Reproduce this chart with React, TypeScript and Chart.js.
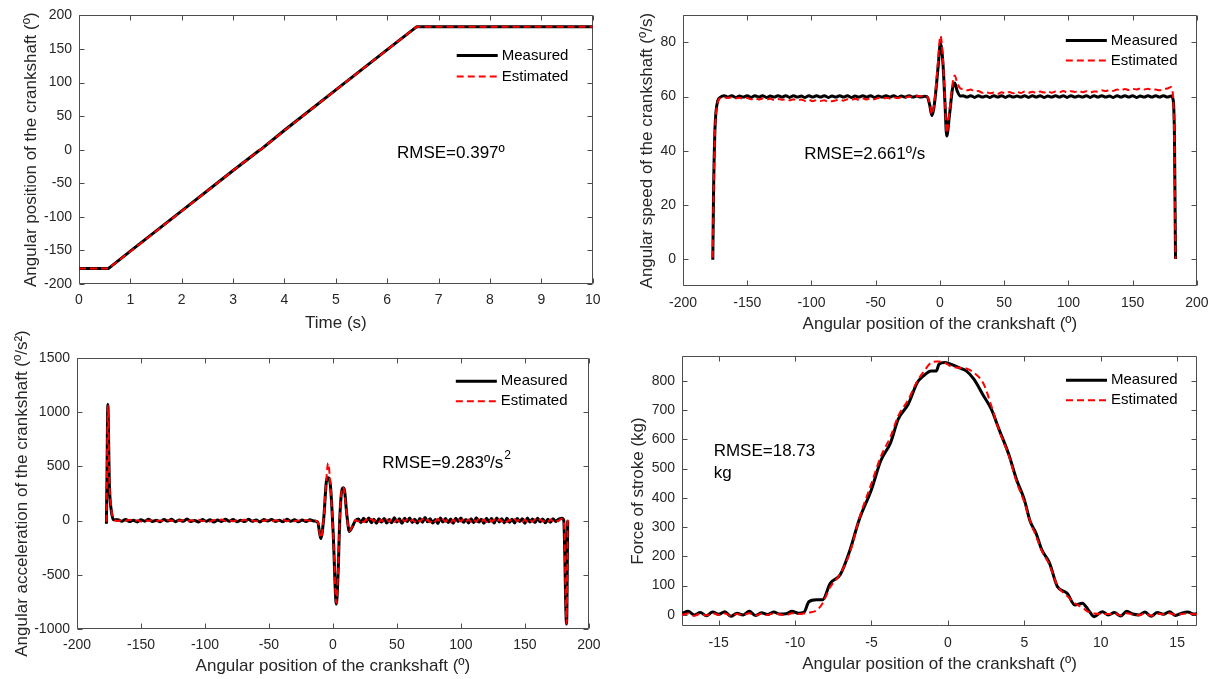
import React, { useEffect, useRef } from 'react';
import { Chart, registerables } from 'chart.js';

Chart.register(...registerables);

const FONT_FAMILY = '"Liberation Sans", Arial, Helvetica, sans-serif';
const INK = '#262626';
const FRAME = '#4d4d4d';
const MEAS_COLOR = '#000000';
const EST_COLOR = '#ff0000';
const SERIES_LABELS = ['Measured', 'Estimated'];

// ---------- Panel 1: angular position vs time ----------
const P1_TIME = [0, 0.57, 1, 2, 3, 3.5, 3.56, 4, 5, 6, 6.57, 7, 8, 9, 10];
const P1_MEAS = [-177, -177, -151, -91, -31, -1.5, 1.5, 29, 89, 149, 183, 183, 183, 183, 183];
const P1_EST = [-177, -177, -151.5, -91.5, -31, -1.5, 1.5, 28.5, 89, 149, 183, 183, 183, 183, 183];
const P1_XTICKS = [0, 1, 2, 3, 4, 5, 6, 7, 8, 9, 10];
const P1_YTICKS = [-200, -150, -100, -50, 0, 50, 100, 150, 200];

// ---------- Panel 2: angular speed vs angular position ----------
const P2_ANGLE = [
  -176.8, -176.2, -175.2, -174.4, -172.9, -170.8,
  -168, -165, -162, -159, -156, -153, -150, -147, -144, -141,
  -138, -135, -132, -129, -126, -123, -120, -117, -114, -111,
  -108, -105, -102, -99, -96, -93, -90, -87, -84, -81,
  -78, -75, -72, -69, -66, -63, -60, -57, -54, -51,
  -48, -45, -42, -39, -36, -33, -30, -27, -24, -21,
  -18, -15, -12,
  -10, -8, -6.3, -5, -3.6, -1.5, 0.4, 2.4, 3.9, 5.3, 7.5, 9.9, 11.5, 13.5, 15.9,
  18, 21, 24, 27, 30, 33, 36, 39, 42, 45,
  48, 51, 54, 57, 60, 63, 66, 69, 72, 75,
  78, 81, 84, 87, 90, 93, 96, 99, 102, 105,
  108, 111, 114, 117, 120, 123, 126, 129, 132, 135,
  138, 141, 144, 147, 150, 153, 156, 159, 162, 165,
  168, 171, 174, 177, 180, 181.5, 182.6, 183.4,
];
const P2_MEAS = [
  -0.3, 25, 47, 54, 58.5, 59.8,
  60.3, 59.8, 60.3, 59.7, 60.2, 59.8, 60.3, 59.7, 60.3, 59.8,
  60.3, 59.7, 60.2, 59.8, 60.3, 59.8, 60.3, 59.7, 60.3, 59.8,
  60.2, 59.7, 60.3, 59.8, 60.3, 59.8, 60.3, 59.7, 60.2, 59.8,
  60.3, 59.8, 60.3, 59.7, 60.2, 59.8, 60.3, 59.8, 60.3, 59.7,
  60.2, 59.8, 60.3, 59.8, 60.3, 59.7, 60.2, 59.8, 60.3, 59.8,
  60.2, 59.8, 60.1,
  60, 57, 53, 55, 60, 70.5, 79.6, 72, 58, 45.4, 53.4, 63.2, 65, 62, 60.2,
  60.3, 59.8, 60.3, 59.7, 60.3, 59.8, 60.2, 59.7, 60.3, 59.8,
  60.3, 59.7, 60.3, 59.8, 60.2, 59.8, 60.3, 59.7, 60.3, 59.8,
  60.3, 59.7, 60.2, 59.8, 60.3, 59.8, 60.3, 59.7, 60.3, 59.8,
  60.2, 59.8, 60.3, 59.7, 60.3, 59.8, 60.3, 59.8, 60.2, 59.7,
  60.3, 59.8, 60.3, 59.8, 60.3, 59.7, 60.2, 59.8, 60.3, 59.8,
  60.3, 59.8, 60.3, 59.8, 60.2, 59, 45, 0,
];
const P2_EST = [
  0.5, 24, 46, 53.5, 58, 59.5,
  59.7, 59.5, 59.8, 59.4, 59.6, 59.2, 59.5, 59.0, 59.4, 58.9,
  59.3, 59.0, 59.2, 58.7, 59.1, 58.8, 59.0, 58.6, 59.0, 58.5,
  58.9, 58.4, 58.8, 58.3, 58.7, 58.4, 58.6, 58.1, 58.3, 58.6,
  58.9, 58.5, 59.0, 58.7, 59.2, 58.8, 59.3, 58.9, 59.4, 59.0,
  59.5, 59.1, 59.6, 59.3, 59.7, 59.4, 59.8, 59.6, 60.0, 59.8,
  60.2, 60.1, 60.3,
  60, 57.5, 53.5, 55.5, 61, 73, 82.5, 73.5, 58.5, 46.5, 55, 65, 67.8, 65, 63,
  62.8, 62.3, 62.6, 61.9, 62.1, 61.4, 61.7, 61.2, 61.5, 61.0,
  61.6, 61.1, 61.7, 61.2, 61.8, 61.3, 61.9, 61.4, 61.8, 61.3,
  61.9, 61.5, 62.0, 61.4, 61.9, 61.6, 62.1, 61.5, 62.0, 61.7,
  62.2, 61.6, 62.0, 61.5, 61.9, 61.8, 62.3, 62.0, 62.5, 62.1,
  62.6, 62.3, 62.8, 62.4, 62.9, 62.6, 63.0, 62.6, 62.9, 62.4,
  62.6, 62.3, 62.8, 63.0, 63.5, 60, 40, 0,
];
const P2_XTICKS = [-200, -150, -100, -50, 0, 50, 100, 150, 200];
const P2_YTICKS = [0, 20, 40, 60, 80];

// ---------- Panel 3: angular acceleration vs angular position ----------
const P3_ANGLE = [
  -177, -176.6, -175.9, -174.7, -173.2, -171.4,
  -168, -165, -162, -159, -156, -153, -150, -147, -144, -141,
  -138, -135, -132, -129, -126, -123, -120, -117, -114, -111,
  -108, -105, -102, -99, -96, -93, -90, -87, -84, -81,
  -78, -75, -72, -69, -66, -63, -60, -57, -54, -51,
  -48, -45, -42, -39, -36, -33, -30, -27, -24, -21,
  -18, -15,
  -11.9, -9.5, -7.1, -5, -3.8, -2, 0.15, 2.7, 4, 5.5, 7.5, 8.6, 11, 12.8, 14.6, 17.6,
  20, 22, 24, 26, 28, 30, 32, 34, 36, 38,
  40, 42, 44, 46, 48, 50, 52, 54, 56, 58,
  60, 62, 64, 66, 68, 70, 72, 74, 76, 78,
  80, 82, 84, 86, 88, 90, 92, 94, 96, 98,
  100, 102, 104, 106, 108, 110, 112, 114, 116, 118,
  120, 122, 124, 126, 128, 130, 132, 134, 136, 138,
  140, 142, 144, 146, 148, 150, 152, 154, 156, 158,
  160, 162, 164, 166, 168, 170, 172, 174, 176,
  177.4, 178.9, 180.4, 181.3, 182, 182.6, 183.5,
];
const P3_MEAS = [
  -30, 380, 1070, 337, 93, 8,
  8, -6, 11, -9, 4, -12, 7, -5, 13, -8,
  3, -11, 9, -4, 12, -10, 6, -7, 14, -9,
  2, -12, 10, -6, 8, -13, 5, -8, 12, -5,
  9, -11, 4, -9, 13, -7, 6, -12, 10, -4,
  11, -8, 3, -10, 12, -6, 8, -11, 5, -9,
  7, -4,
  -13, -166, 32, 370, 395, 330, -100, -770, -500, 50, 300, 300, 40, -100, -70, 0,
  14, -18, 22, -10, 25, -20, 12, -24, 18, -14,
  20, -22, 9, -19, 26, -12, 16, -25, 21, -8,
  24, -17, 13, -23, 19, -15, 28, -11, 17, -21,
  10, -26, 23, -13, 20, -18, 15, -24, 22, -9,
  25, -16, 11, -22, 18, -20, 27, -14, 13, -25,
  21, -10, 19, -23, 24, -12, 16, -19, 22, -15,
  12, -21, 20, -9, 17, -24, 23, -13, 14, -18,
  21, -11, 15, -20, 12, -16, 18, -8, 10,
  18, 22, 2, -350, -800, -955, 0,
];
const P3_EST = [
  -10, 360, 1060, 360, 110, 10,
  -4, 6, -2, 8, -6, 3, -8, 5, -3, 9,
  -5, 2, -7, 6, -4, 8, -2, 5, -9, 4,
  -3, 7, -6, 2, -8, 5, -1, 9, -5, 3,
  -7, 6, -2, 8, -4, 1, -6, 7, -3, 5,
  -8, 4, -2, 9, -5, 3, -6, 2, -4, 6,
  -3, 2,
  -10, -160, 40, 400, 530, 340, -100, -760, -480, 60, 310, 290, 30, -95, -65, 5,
  -8, 12, -14, 9, -11, 15, -6, 13, -12, 7,
  -15, 10, -9, 14, -13, 6, -10, 16, -7, 11,
  -14, 8, -12, 13, -9, 15, -11, 7, -16, 10,
  -6, 14, -13, 9, -10, 12, -15, 8, -11, 13,
  -9, 15, -7, 11, -14, 10, -12, 16, -8, 9,
  -13, 14, -10, 7, -15, 12, -9, 11, -13, 8,
  -11, 13, -7, 10, -12, 9, -14, 6, -10, 12,
  -8, 11, -9, 7, -12, 10, -6, 8, -5,
  10, 15, 5, -300, -780, -950, 10,
];
const P3_XTICKS = [-200, -150, -100, -50, 0, 50, 100, 150, 200];
const P3_YTICKS = [-1000, -500, 0, 500, 1000, 1500];

// ---------- Panel 4: force of stroke vs angular position ----------
const P4_ANGLE = [
  -17.4, -17.0, -16.6, -16.2, -15.8, -15.4, -15.0, -14.6, -14.2, -13.8,
  -13.4, -13.0, -12.6, -12.2, -11.8, -11.4, -11.0, -10.6, -10.2, -9.8, -9.4,
  -9.1, -8.6, -8.2, -7.7, -7.05, -6.4, -5.8, -5.0, -4.4, -3.75,
  -3.25, -2.6, -2.0, -1.6, -1.1, -0.76, -0.58, -0.2, 0.18, 0.69,
  1.2, 1.7, 2.33, 2.84, 3.35, 3.98, 4.49, 5.0, 5.38, 5.76,
  6.14, 6.65, 7.16, 7.8, 8.3, 8.8, 9.19, 9.57, 10.1,
  10.5, 10.9, 11.3, 11.7, 12.1, 12.5, 12.9, 13.3, 13.7, 14.1,
  14.5, 14.9, 15.3, 15.7, 16.1, 16.5,
];
const P4_MEAS = [
  5, 12, 0, 8, -3, 10, 2, 11, -5, 6,
  0, 12, -2, 7, 1, 10, 3, 4, 12, 6, 10,
  45, 52, 52, 108, 137, 223, 326, 429, 526, 589,
  669, 720, 794, 817, 834, 834, 857, 863, 857, 846,
  834, 806, 749, 703, 634, 549, 463, 394, 320, 280,
  223, 177, 97, 74, 34, 40, 17, -6, 11,
  0, 8, -4, 12, 3, 0, 10, -5, 8, 2,
  11, -2, 6, 10, 3, 8,
];
const P4_EST = [
  0, 5, -3, 4, -2, 6, 0, 5, -4, 3,
  -1, 6, -2, 4, 0, 5, 2, -1, 6, 3, 5,
  8, 15, 40, 95, 140, 215, 330, 450, 540, 610,
  680, 735, 800, 830, 862, 866, 866, 862, 850, 845,
  842, 828, 790, 715, 630, 545, 455, 385, 320, 270,
  220, 170, 100, 65, 40, 25, 10, 5, 3,
  3, 5, -2, 6, 1, -1, 5, -3, 4, 2,
  6, 0, 3, 5, 2, 4,
];
const P4_XTICKS = [-15, -10, -5, 0, 5, 10, 15];
const P4_YTICKS = [0, 100, 200, 300, 400, 500, 600, 700, 800];

// ---------- layout / style of each panel ----------
type Note = { x: number; y: number; lines: string[]; sup?: string };
type LegendPos = { lineFrom: number; lineTo: number; textFrom: number; top: number; gap: number };
type Panel = {
  left: number; top: number; width: number; height: number;
  yAxisWidth: number; xAxisHeight: number; padTop: number; padRight: number;
  xMin: number; xMax: number; yMin: number; yMax: number;
  xTicks: number[]; yTicks: number[];
  xTitle: string; yTitle: string; xTitlePad: number; yTitlePad: number; xTickPad: number;
  xs: number[]; meas: number[]; est: number[]; smooth: boolean;
  legend: LegendPos; note: Note;
};

const PANELS: Panel[] = [
  {
    left: 0, top: 0, width: 608, height: 340,
    yAxisWidth: 79, xAxisHeight: 56, padTop: 12, padRight: 14,
    xMin: 0, xMax: 10, yMin: -200, yMax: 200, xTicks: P1_XTICKS, yTicks: P1_YTICKS,
    xTitle: 'Time (s)', yTitle: 'Angular position of the crankshaft (º)',
    xTitlePad: 6.4, yTitlePad: 21.4, xTickPad: 7.5,
    xs: P1_TIME, meas: P1_MEAS, est: P1_EST, smooth: false,
    legend: { lineFrom: 136, lineTo: 95, textFrom: 91, top: 40, gap: 21 },
    note: { x: 6.19, y: -5, lines: ['RMSE=0.397º'] },
  },
  {
    left: 608, top: 0, width: 609, height: 340,
    yAxisWidth: 75, xAxisHeight: 54, padTop: 13, padRight: 19,
    xMin: -200, xMax: 200, yMin: -10, yMax: 90, xTicks: P2_XTICKS, yTicks: P2_YTICKS,
    xTitle: 'Angular position of the crankshaft (º)', yTitle: 'Angular speed of the crankshaft (º/s)',
    xTitlePad: 5.6, yTitlePad: 29.4, xTickPad: 8.5,
    xs: P2_ANGLE, meas: P2_MEAS, est: P2_EST, smooth: true,
    legend: { lineFrom: 131, lineTo: 90, textFrom: 86, top: 25.2, gap: 20 },
    note: { x: -105.7, y: 38.8, lines: ['RMSE=2.661º/s'] },
  },
  {
    left: 0, top: 300, width: 608, height: 379,
    yAxisWidth: 77, xAxisHeight: 50, padTop: 58, padRight: 13,
    xMin: -200, xMax: 200, yMin: -1000, yMax: 1500, xTicks: P3_XTICKS, yTicks: P3_YTICKS,
    xTitle: 'Angular position of the crankshaft (º)', yTitle: 'Angular acceleration of the crankshaft (º/s²)',
    xTitlePad: 2.6, yTitlePad: 11.9, xTickPad: 7.5,
    xs: P3_ANGLE, meas: P3_MEAS, est: P3_EST, smooth: true,
    legend: { lineFrom: 133, lineTo: 92, textFrom: 88, top: 23.2, gap: 20 },
    note: { x: 38.6, y: 525, lines: ['RMSE=9.283º/s'], sup: '2' },
  },
  {
    left: 608, top: 300, width: 609, height: 379,
    yAxisWidth: 74, xAxisHeight: 53, padTop: 56, padRight: 20,
    xMin: -17.4, xMax: 16.3, yMin: -38, yMax: 885, xTicks: P4_XTICKS, yTicks: P4_YTICKS,
    xTitle: 'Angular position of the crankshaft (º)', yTitle: 'Force of stroke (kg)',
    xTitlePad: 4.6, yTitlePad: 20.4, xTickPad: 8.5,
    xs: P4_ANGLE, meas: P4_MEAS, est: P4_EST, smooth: true,
    legend: { lineFrom: 131, lineTo: 90, textFrom: 86, top: 24.2, gap: 20 },
    note: { x: -15.33, y: 560, lines: ['RMSE=18.73', 'kg'] },
  },
];

function pairs(xs: number[], ys: number[]) {
  return xs.map((x, i) => ({ x, y: ys[i] }));
}

const framePlugin = {
  id: 'matlabFrame',
  beforeDatasetsDraw(chart: any) {
    const { ctx, chartArea: a } = chart;
    const xs = chart.scales.x;
    const ys = chart.scales.y;
    const l = Math.round(a.left) + 0.5;
    const r = Math.round(a.right) - 0.5;
    const t = Math.round(a.top) + 0.5;
    const b = Math.round(a.bottom) - 0.5;
    const TL = 5;
    ctx.save();
    ctx.strokeStyle = FRAME;
    ctx.lineWidth = 1;
    ctx.setLineDash([]);
    ctx.beginPath();
    ctx.rect(l, t, r - l, b - t);
    for (const tk of xs.ticks) {
      const px = Math.round(xs.getPixelForValue(tk.value)) + 0.5;
      ctx.moveTo(px, b); ctx.lineTo(px, b - TL);
      ctx.moveTo(px, t); ctx.lineTo(px, t + TL);
    }
    for (const tk of ys.ticks) {
      const py = Math.round(ys.getPixelForValue(tk.value)) + 0.5;
      ctx.moveTo(l, py); ctx.lineTo(l + TL, py);
      ctx.moveTo(r, py); ctx.lineTo(r - TL, py);
    }
    ctx.stroke();
    ctx.restore();
  },
};

function overlayPlugin(p: Panel) {
  return {
    id: 'overlay',
    afterDatasetsDraw(chart: any) {
      const { ctx, chartArea: a } = chart;
      ctx.save();
      chart.data.datasets.forEach((ds: any, i: number) => {
        const yy = a.top + p.legend.top + i * p.legend.gap;
        ctx.strokeStyle = ds.borderColor;
        ctx.lineWidth = ds.borderWidth;
        ctx.setLineDash(ds.borderDash || []);
        ctx.beginPath();
        ctx.moveTo(a.right - p.legend.lineFrom, yy);
        ctx.lineTo(a.right - p.legend.lineTo, yy);
        ctx.stroke();
        ctx.setLineDash([]);
        ctx.fillStyle = '#000';
        ctx.font = `15px ${FONT_FAMILY}`;
        ctx.textAlign = 'left';
        ctx.textBaseline = 'middle';
        ctx.fillText(ds.label, a.right - p.legend.textFrom, yy);
      });
      const nx = chart.scales.x.getPixelForValue(p.note.x);
      const ny = chart.scales.y.getPixelForValue(p.note.y);
      ctx.fillStyle = '#000';
      ctx.textAlign = 'left';
      ctx.textBaseline = 'middle';
      p.note.lines.forEach((line, i) => {
        ctx.font = `17px ${FONT_FAMILY}`;
        const ly = ny + i * 22;
        ctx.fillText(line, nx, ly);
        if (p.note.sup && i === 0) {
          const w = ctx.measureText(line).width;
          ctx.font = `12px ${FONT_FAMILY}`;
          ctx.fillText(p.note.sup, nx + w + 1, ly - 8);
        }
      });
      ctx.restore();
    },
  };
}

function buildConfig(p: Panel): any {
  const interp = p.smooth ? { cubicInterpolationMode: 'monotone' } : { tension: 0 };
  const tickFont = { family: FONT_FAMILY, size: 14 };
  const titleFont = { family: FONT_FAMILY, size: 17 };
  return {
    type: 'line',
    data: {
      datasets: [
        {
          label: SERIES_LABELS[0], data: pairs(p.xs, p.meas),
          borderColor: MEAS_COLOR, borderWidth: 3, pointRadius: 0, borderJoinStyle: 'round',
          fill: false, order: 2, clip: 0, ...interp,
        },
        {
          label: SERIES_LABELS[1], data: pairs(p.xs, p.est),
          borderColor: EST_COLOR, borderWidth: 2, borderDash: [7, 4], pointRadius: 0,
          fill: false, order: 1, clip: 0, ...interp,
        },
      ],
    },
    options: {
      responsive: false,
      animation: false,
      devicePixelRatio: 1,
      events: [],
      layout: { padding: { left: 0, top: p.padTop, right: p.padRight, bottom: 0 } },
      plugins: { legend: { display: false }, tooltip: { enabled: false } },
      scales: {
        x: {
          type: 'linear', min: p.xMin, max: p.xMax, bounds: 'data',
          afterFit: (s: any) => { s.height = p.xAxisHeight; },
          afterBuildTicks: (s: any) => { s.ticks = p.xTicks.map((v) => ({ value: v })); },
          grid: { display: false, drawTicks: false },
          border: { display: false },
          ticks: {
            autoSkip: false, maxRotation: 0, minRotation: 0, padding: p.xTickPad,
            color: INK, font: tickFont, callback: (v: any) => String(v),
          },
          title: {
            display: true, text: p.xTitle, color: INK, font: titleFont,
            padding: { top: 0, bottom: p.xTitlePad },
          },
        },
        y: {
          type: 'linear', min: p.yMin, max: p.yMax, bounds: 'data',
          afterFit: (s: any) => { s.width = p.yAxisWidth; },
          afterBuildTicks: (s: any) => { s.ticks = p.yTicks.map((v) => ({ value: v })); },
          grid: { display: false, drawTicks: false },
          border: { display: false },
          ticks: {
            autoSkip: false, padding: 7, color: INK, font: tickFont,
            callback: (v: any) => String(v),
          },
          title: {
            display: true, text: p.yTitle, color: INK, font: titleFont,
            padding: { top: p.yTitlePad, bottom: 0 },
          },
        },
      },
    },
    plugins: [framePlugin, overlayPlugin(p)],
  };
}

function ChartPanel({ panel }: { panel: Panel }) {
  const ref = useRef<HTMLCanvasElement | null>(null);
  useEffect(() => {
    const canvas = ref.current;
    if (!canvas) return;
    const chart = new Chart(canvas, buildConfig(panel));
    return () => chart.destroy();
  }, [panel]);
  return (
    <canvas
      ref={ref}
      width={panel.width}
      height={panel.height}
      style={{
        position: 'absolute', left: panel.left, top: panel.top,
        width: panel.width, height: panel.height,
      }}
    />
  );
}

export default function App() {
  return (
    <div style={{ position: 'absolute', left: 0, top: 0, width: 1217, height: 679, background: '#fff', overflow: 'hidden' }}>
      {PANELS.map((p, i) => (
        <ChartPanel key={i} panel={p} />
      ))}
    </div>
  );
}
